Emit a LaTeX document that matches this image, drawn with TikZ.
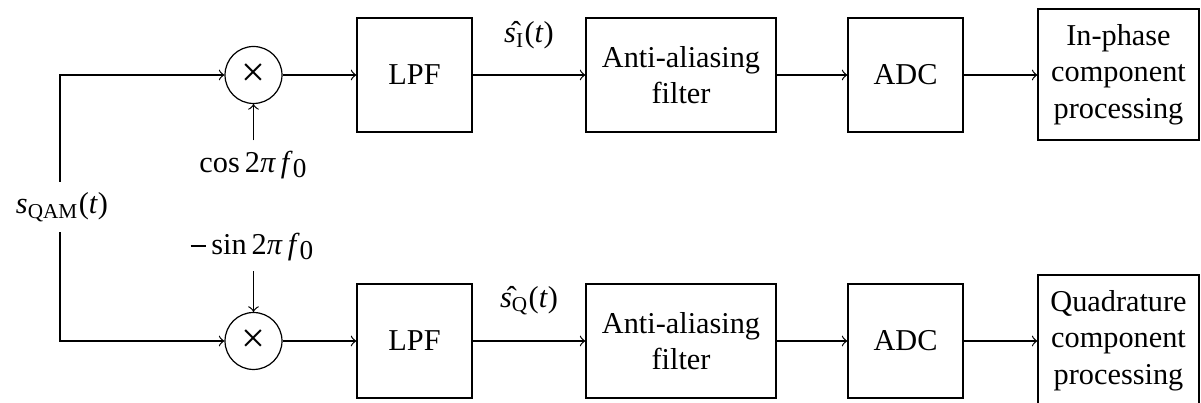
\documentclass[tikz,border=0pt]{standalone}
\usepackage{fontspec}
\setmainfont{Liberation Serif}
\usetikzlibrary{calc}
\newcommand{\itl}[1]{\textit{#1}}
\newcommand{\lowsub}[1]{\raisebox{-0.35ex}{\small #1}}
\newcommand{\mminus}{\rule[0.25em]{0.5em}{0.5pt}}
\begin{document}
\begin{tikzpicture}[x=0.33pt,y=-0.33pt,>=to,
  blk/.style={draw,minimum width=37.95pt,minimum height=37.6pt,inner sep=0pt,align=center},
  wideblk/.style={blk,minimum width=62.7pt},
  outblk/.style={draw,minimum width=53.1pt,minimum height=43.2pt,inner sep=0pt,align=center},
  mult/.style={draw,circle,minimum size=18.8pt,inner sep=0pt,font=\fontsize{14}{14}\selectfont},
  lbl/.style={inner sep=3.3pt}]
\useasboundingbox (0,0) rectangle (1201,403);
% top branch
\node[mult] (m1) at (253.5,75) {×};
\node[blk] (l1) at (414.5,75) {LPF};
\node[wideblk] (a1) at (681,75) {Anti-aliasing\\filter};
\node[blk] (d1) at (905.5,75) {ADC};
\node[outblk] (p1) at (1118.5,74.5) {In-phase\\component\\processing};
% bottom branch
\node[mult] (m2) at (253.5,341) {×};
\node[blk] (l2) at (414.5,341) {LPF};
\node[wideblk] (a2) at (681,341) {Anti-aliasing\\filter};
\node[blk] (d2) at (905.5,341) {ADC};
\node[outblk] (p2) at (1118.5,340.5) {Quadrature\\component\\processing};
% labels
\node[lbl] (s) at (62,207) {\itl{s}\textsubscript{QAM}(\itl{t})};
\node[lbl] (c) at (253,165) {cos\,2\itl{π}\,\itl{f}\lowsub{0}};
\node[lbl] (sn) at (252,247) {\mminus\hspace{1.8pt}sin\,2\itl{π}\,\itl{f}\lowsub{0}};
% connectors
\draw[->] (s.north -| 60,0) |- (m1.west);
\draw[->] (s.south -| 60,0) |- (m2.west);
\draw[->] (c.north -| m1) -- (m1);
\draw[->] (sn.south -| m2) -- (m2);
\draw[->] (m1) -- (l1);
\draw[->] (l1) -- node[above=5pt] {\^{\itl{s}}\textsubscript{I}(\itl{t})} (a1);
\draw[->] (a1) -- (d1);
\draw[->] (d1) -- (p1.west |- d1);
\draw[->] (m2) -- (l2);
\draw[->] (l2) -- node[above=5pt] {\^{\itl{s}}\textsubscript{Q}(\itl{t})} (a2);
\draw[->] (a2) -- (d2);
\draw[->] (d2) -- (p2.west |- d2);
\end{tikzpicture}
\end{document}
